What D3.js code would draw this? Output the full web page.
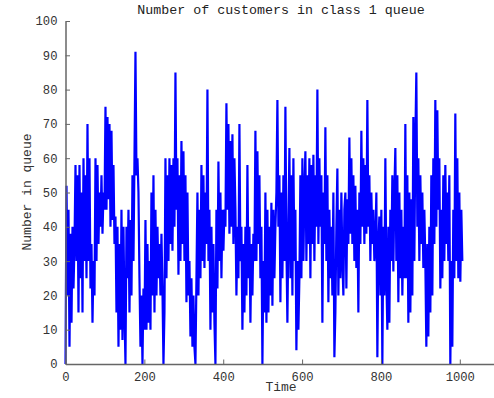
<!DOCTYPE html>
<html><head><meta charset="utf-8">
<script src="https://cdn.jsdelivr.net/npm/d3@7"></script>
<style>body{margin:0;background:#fff}svg{display:block}</style>
</head><body>
<script>
const chartTitle = "Number of customers in class 1 queue";
const xLabel = "Time";
const yLabel = "Number in queue";
const xTicks = [0, 200, 400, 600, 800, 1000];
const yTicks = [0, 10, 20, 30, 40, 50, 60, 70, 80, 90, 100];
const timeStep = 2.535;
const queueLength = [
  0, 52, 20, 45, 5, 38, 12, 40, 22, 35,
  58, 30, 55, 15, 58, 25, 50, 15, 60, 30,
  55, 25, 70, 30, 60, 22, 35, 12, 30, 20,
  60, 30, 58, 35, 50, 40, 55, 38, 50, 45,
  75, 45, 72, 48, 70, 40, 68, 42, 58, 35,
  43, 15, 40, 5, 35, 10, 45, 7, 40, 15,
  0, 40, 25, 45, 15, 42, 20, 55, 30, 60,
  91, 55, 60, 50, 25, 5, 20, 0, 22, 10,
  42, 10, 35, 12, 30, 10, 50, 20, 55, 15,
  45, 20, 40, 25, 35, 20, 38, 22, 0, 15,
  60, 25, 55, 30, 60, 35, 58, 33, 60, 40,
  85, 45, 60, 26, 55, 30, 65, 35, 62, 30,
  55, 18, 50, 20, 30, 8, 25, 5, 20, 5,
  0, 25, 50, 20, 45, 25, 58, 30, 55, 28,
  50, 35, 80, 30, 45, 10, 40, 15, 35, 12,
  0, 45, 22, 59, 30, 50, 25, 45, 33, 45,
  40, 76, 45, 70, 38, 65, 40, 67, 35, 60,
  45, 20, 40, 25, 70, 30, 40, 10, 35, 15,
  40, 20, 58, 25, 40, 12, 35, 20, 38, 30,
  68, 30, 62, 35, 55, 25, 40, 0, 30, 15,
  50, 12, 45, 15, 40, 20, 47, 17, 45, 25,
  40, 50, 77, 40, 55, 18, 50, 25, 55, 30,
  75, 35, 12, 40, 63, 25, 55, 20, 60, 30,
  45, 4, 30, 10, 25, 55, 25, 60, 30, 50,
  62, 30, 55, 35, 60, 25, 58, 35, 61, 30,
  55, 40, 80, 35, 60, 40, 55, 12, 50, 35,
  69, 30, 55, 18, 45, 25, 40, 20, 50, 2,
  15, 40, 57, 20, 45, 25, 50, 30, 20, 45,
  50, 22, 48, 35, 66, 38, 60, 35, 55, 30,
  52, 28, 45, 15, 50, 35, 68, 40, 60, 35,
  58, 38, 77, 40, 55, 30, 50, 35, 45, 30,
  35, 50, 2, 35, 43, 20, 45, 0, 40, 20,
  60, 25, 10, 40, 12, 45, 30, 55, 27, 50,
  63, 30, 55, 18, 50, 25, 45, 20, 40, 25,
  70, 25, 55, 12, 50, 15, 48, 20, 72, 30,
  65, 85, 40, 60, 30, 55, 35, 50, 28, 45,
  30, 5, 35, 8, 40, 15, 55, 20, 60, 35,
  77, 40, 74, 45, 60, 22, 45, 25, 55, 30,
  58, 35, 50, 30, 55, 0, 30, 5, 45, 25,
  73, 30, 60, 25, 50, 24, 45, 30
];

const W = 494, H = 398;
const m = {left: 65.5, top: 21, bottom: 364};
const svg = d3.select("body").append("svg").attr("width", W).attr("height", H);
const x = d3.scaleLinear().domain([0, 1100]).range([m.left, m.left + 1100 * 0.3943]);
const y = d3.scaleLinear().domain([0, 100]).range([m.bottom, m.top]);
const font = "'Liberation Mono', 'DejaVu Sans Mono', monospace";
const axisColor = "#666";
const textColor = "#333";

const data = queueLength.map((v, i) => ({t: i * timeStep, v}));

svg.append("path").datum(data)
  .attr("fill", "none").attr("stroke", "#0000ff").attr("stroke-width", 2.2)
  .attr("stroke-linejoin", "miter").attr("stroke-miterlimit", 1.5)
  .attr("d", d3.line().x(d => x(d.t)).y(d => y(d.v)));

const fmt = d3.format("d");
const xAxis = svg.append("g").attr("transform", `translate(0,${m.bottom})`)
  .call(d3.axisBottom(x).tickValues(xTicks).tickFormat(fmt).tickSizeInner(-4.5).tickSizeOuter(0).tickPadding(8));
const yAxis = svg.append("g").attr("transform", `translate(${m.left},0)`)
  .call(d3.axisLeft(y).tickValues(yTicks).tickFormat(fmt).tickSizeInner(-4.5).tickSizeOuter(0).tickPadding(8));
[xAxis, yAxis].forEach(g => {
  g.select(".domain").attr("stroke", axisColor).attr("stroke-width", 1.5);
  g.selectAll(".tick line").attr("stroke", axisColor).attr("stroke-width", 1);
  g.selectAll(".tick text").attr("fill", textColor).style("font-family", font).style("font-size", "12.2px");
});

svg.append("text").attr("x", 281).attr("y", 14).attr("text-anchor", "middle")
  .style("font-family", font).style("font-size", "13.3px").attr("fill", "#222").text(chartTitle);
svg.append("text").attr("x", 281).attr("y", 391).attr("text-anchor", "middle")
  .style("font-family", font).style("font-size", "13px").attr("fill", textColor).text(xLabel);
svg.append("text").attr("transform", "translate(31,192) rotate(-90)").attr("text-anchor", "middle")
  .style("font-family", font).style("font-size", "13px").attr("fill", textColor).text(yLabel);
</script>
</body></html>
